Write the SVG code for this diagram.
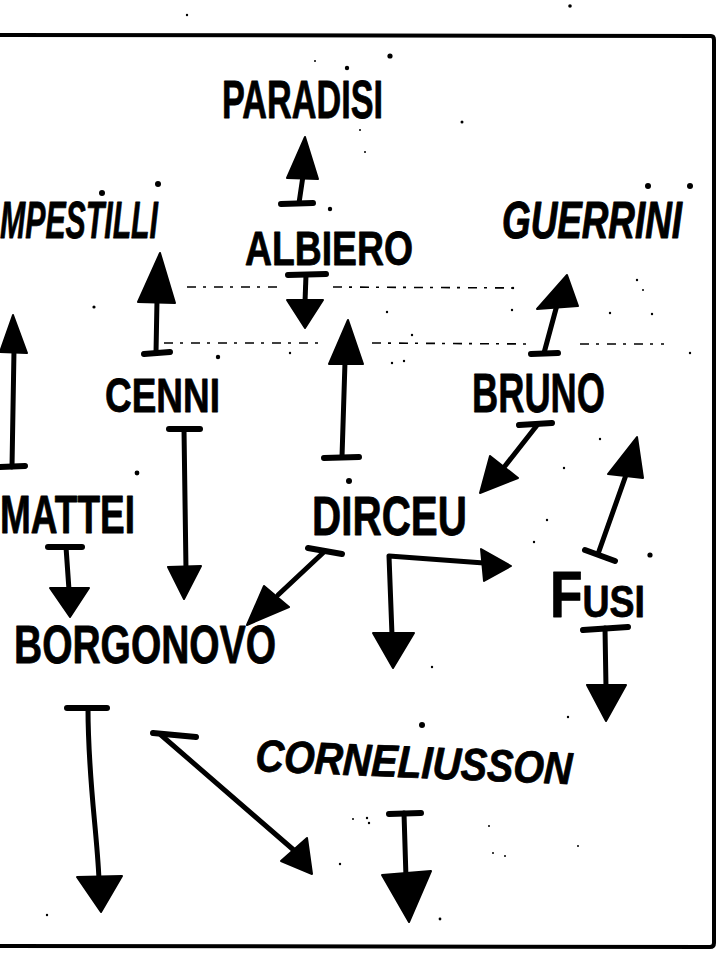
<svg xmlns="http://www.w3.org/2000/svg" width="720" height="976" viewBox="0 0 720 976">
  <style>
    .frame{fill:none;stroke:#000;stroke-width:4;stroke-linejoin:round}
    .ln{fill:none;stroke:#000;stroke-width:5;stroke-linecap:round;stroke-linejoin:round}
    .bar{fill:none;stroke:#000;stroke-width:6;stroke-linecap:round}
    .hd{fill:#000;stroke:#000;stroke-width:2;stroke-linejoin:round}
    .dash{fill:none;stroke:#000;stroke-width:1.6;stroke-dasharray:9 7 3 8}
    .lbl{font-family:"Liberation Sans",Arial,sans-serif;font-weight:bold;fill:#000;stroke:#000;stroke-width:0.8;stroke-linejoin:round}
    .it{font-style:italic}
    .spk{fill:#000}
  </style>
  <rect width="720" height="976" fill="#fff"/>

  <!-- outer frame (left side runs off the sheet) -->
  <path class="frame" d="M0,35 L711,36 Q714,36 714,40 L714,943 Q714,947 710,947 L0,946"/>

  <!-- faint dashed guide lines -->
  <g id="guides">
    <path class="dash" d="M187,287 L282,287 M333,287 L522,288"/>
    <path class="dash" d="M164,343 L322,343 M372,343 L528,344 M580,344 L664,344"/>
  </g>

  <!-- stray specks -->
  <g id="specks" class="spk">
    <circle cx="187" cy="15" r="1.2"/><circle cx="570" cy="6" r="1.8"/>
    <circle cx="315" cy="61" r="1"/><circle cx="347" cy="68" r="2.2"/><circle cx="390" cy="56" r="2.6"/>
    <circle cx="462" cy="122" r="1.5"/><circle cx="360" cy="130" r="1"/><circle cx="365" cy="152" r="1"/>
    <circle cx="94" cy="307" r="1.6"/><circle cx="513" cy="288" r="1.2"/><circle cx="637" cy="280" r="1.2"/>
    <circle cx="643" cy="290" r="1"/><circle cx="512" cy="310" r="1.2"/><circle cx="610" cy="313" r="1.2"/>
    <circle cx="652" cy="314" r="1.2"/><circle cx="387" cy="312" r="1.2"/><circle cx="412" cy="335" r="1.2"/>
    <circle cx="290" cy="353" r="1.2"/><circle cx="392" cy="363" r="1.2"/><circle cx="404" cy="361" r="1.2"/>
    <circle cx="218" cy="357" r="2.2"/><circle cx="137" cy="473" r="2.4"/><circle cx="690" cy="353" r="1.2"/>
    <circle cx="600" cy="439" r="1.2"/><circle cx="564" cy="468" r="1.2"/><circle cx="547" cy="520" r="1.2"/>
    <circle cx="534" cy="542" r="1.2"/><circle cx="650" cy="555" r="2.6"/><circle cx="432" cy="667" r="1.2"/>
    <circle cx="568" cy="717" r="1.2"/><circle cx="353" cy="819" r="1"/><circle cx="367" cy="818" r="1.2"/>
    <circle cx="369" cy="823" r="1.2"/><circle cx="340" cy="864" r="1.2"/><circle cx="440" cy="919" r="1.4"/>
    <circle cx="489" cy="826" r="1"/><circle cx="493" cy="853" r="1"/><circle cx="505" cy="856" r="1"/>
    <circle cx="578" cy="846" r="1"/><circle cx="47" cy="915" r="1.2"/>
  </g>

  <!-- player names -->
  <g id="n-paradisi">
    <text class="lbl" x="222" y="118" font-size="53" textLength="161" lengthAdjust="spacingAndGlyphs">PARADISI</text>
  </g>
  <g id="n-campestilli">
    <text class="lbl it" x="0" y="238" font-size="52" textLength="158" lengthAdjust="spacingAndGlyphs">MPESTILLI</text>
    <circle class="spk" cx="102" cy="193" r="3"/><circle class="spk" cx="158" cy="184" r="3"/>
  </g>
  <g id="n-albiero">
    <text class="lbl" x="245" y="265" font-size="49" textLength="168" lengthAdjust="spacingAndGlyphs">ALBIERO</text>
    <circle class="spk" cx="330" cy="209" r="2.2"/>
  </g>
  <g id="n-guerrini">
    <text class="lbl it" x="0" y="0" font-size="40" textLength="180" lengthAdjust="spacingAndGlyphs" transform="translate(502 238) scale(1 1.3)">GUERRINI</text>
    <circle class="spk" cx="648" cy="186" r="3"/><circle class="spk" cx="690" cy="186" r="3"/>
  </g>
  <g id="n-cenni">
    <text class="lbl" x="105" y="412" font-size="49" textLength="115" lengthAdjust="spacingAndGlyphs">CENNI</text>
  </g>
  <g id="n-bruno">
    <text class="lbl" x="472" y="412" font-size="56" textLength="133" lengthAdjust="spacingAndGlyphs">BRUNO</text>
  </g>
  <g id="n-mattei">
    <text class="lbl" x="0" y="533" font-size="53" textLength="135" lengthAdjust="spacingAndGlyphs">MATTEI</text>
  </g>
  <g id="n-dirceu">
    <text class="lbl" x="312" y="535" font-size="56" textLength="155" lengthAdjust="spacingAndGlyphs">DIRCEU</text>
    <circle class="spk" cx="349" cy="481" r="3"/>
  </g>
  <g id="n-fusi">
    <text class="lbl" x="550" y="617" font-size="64" font-variant="small-caps" textLength="95" lengthAdjust="spacingAndGlyphs">Fusi</text>
  </g>
  <g id="n-borgonovo">
    <text class="lbl" x="14" y="663" font-size="53" textLength="262" lengthAdjust="spacingAndGlyphs">BORGONOVO</text>
  </g>
  <g id="n-corneliusson">
    <text class="lbl it" x="255" y="771" font-size="45" textLength="317" lengthAdjust="spacingAndGlyphs" transform="rotate(2.4 255 771)">CORNELIUSSON</text>
    <circle class="spk" cx="422" cy="725" r="3"/>
  </g>

  <!-- passing arrows: bar = start, filled head = end -->
  <g id="connectors">
    <!-- Albiero to Paradisi -->
    <path class="ln" d="M299,203 L303,176"/>
    <path class="bar" d="M281,204 L313,203"/>
    <path class="hd" d="M305,137 L318,179 L287,178 Z"/>
    <!-- Cenni to Campestilli -->
    <path class="ln" d="M156,353 L157,300"/>
    <path class="bar" d="M144,354 L170,352"/>
    <path class="hd" d="M160,253 L175,303 L138,302 Z"/>
    <!-- Mattei upwards on the left -->
    <path class="ln" d="M12,467 L14,350"/>
    <path class="bar" d="M0,467 L25,466"/>
    <path class="hd" d="M13,315 L27,353 L0,352 Z"/>
    <!-- Albiero downwards -->
    <path class="bar" d="M288,275 L326,274"/>
    <path class="ln" d="M306,275 L305,302"/>
    <path class="hd" d="M287,300 L323,300 L305,328 Z"/>
    <!-- Dirceu to Albiero -->
    <path class="bar" d="M324,458 L359,457"/>
    <path class="ln" d="M342,457 L345,362"/>
    <path class="hd" d="M348,320 L363,364 L329,364 Z"/>
    <!-- Bruno to Guerrini -->
    <path class="bar" d="M531,354 L558,353"/>
    <path class="ln" d="M544,353 L557,305"/>
    <path class="hd" d="M567,275 L578,306 L537,309 Z"/>
    <!-- Cenni to Borgonovo -->
    <path class="bar" d="M169,429 L200,429"/>
    <path class="ln" d="M184,429 L186,570"/>
    <path class="hd" d="M168,567 L201,566 L184,599 Z"/>
    <!-- Bruno to Dirceu -->
    <path class="bar" d="M519,425 L552,423"/>
    <path class="ln" d="M538,424 L505,466"/>
    <path class="hd" d="M480,493 L490,456 L518,478 Z"/>
    <!-- Fusi upwards -->
    <path class="bar" d="M585,550 L615,561"/>
    <path class="ln" d="M598,554 L626,475"/>
    <path class="hd" d="M637,437 L643,478 L608,474 Z"/>
    <!-- Mattei to Borgonovo -->
    <path class="bar" d="M48,547 L82,547"/>
    <path class="ln" d="M66,547 L69,590"/>
    <path class="hd" d="M50,588 L89,588 L70,617 Z"/>
    <!-- Dirceu to Borgonovo -->
    <path class="bar" d="M308,548 L342,554"/>
    <path class="ln" d="M325,551 L278,595"/>
    <path class="hd" d="M247,625 L264,586 L289,607 Z"/>
    <!-- Dirceu elbow: down and right -->
    <path class="ln" d="M392,635 L389,556 L484,563"/>
    <path class="hd" d="M511,566 L481,549 L484,581 Z"/>
    <path class="hd" d="M373,633 L414,633 L393,668 Z"/>
    <!-- Fusi downwards -->
    <path class="bar" d="M583,630 L628,627"/>
    <path class="ln" d="M605,628 L606,688"/>
    <path class="hd" d="M587,685 L626,685 L606,721 Z"/>
    <!-- Borgonovo downwards -->
    <path class="bar" d="M67,708 L107,708"/>
    <path class="ln" d="M88,708 C88,780 97,830 99,880"/>
    <path class="hd" d="M77,877 L122,876 L101,912 Z"/>
    <!-- Borgonovo diagonal -->
    <path class="bar" d="M153,733 L196,737"/>
    <path class="ln" d="M161,735 L296,852"/>
    <path class="hd" d="M312,874 L281,861 L307,838 Z"/>
    <!-- Corneliusson downwards -->
    <path class="bar" d="M389,814 L421,813"/>
    <path class="ln" d="M404,813 L406,878"/>
    <path class="hd" d="M382,875 L431,871 L409,922 Z"/>
  </g>
</svg>
